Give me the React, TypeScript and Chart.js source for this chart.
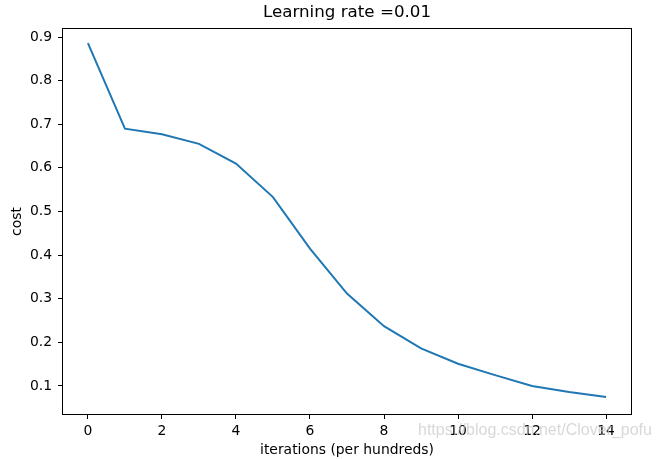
import React, { useEffect, useRef } from "react";
import { Chart, registerables } from "chart.js";

Chart.register(...registerables);

const iterations = [0, 1, 2, 3, 4, 5, 6, 7, 8, 9, 10, 11, 12, 13, 14];
const costs = [0.886, 0.690, 0.677, 0.655, 0.610, 0.533, 0.415, 0.312, 0.237, 0.186, 0.151, 0.125, 0.100, 0.086, 0.075];
const xTicks = [0, 2, 4, 6, 8, 10, 12, 14];
const yTicks = [0.1, 0.2, 0.3, 0.4, 0.5, 0.6, 0.7, 0.8, 0.9];
const titleText = "Learning rate =0.01";
const xLabel = "iterations (per hundreds)";
const yLabel = "cost";
const watermark = "https://blog.csdn.net/Clover_pofu";

const FONT = "'DejaVu Sans', sans-serif";

export default function App() {
  const ref = useRef<HTMLCanvasElement | null>(null);
  useEffect(() => {
    if (!ref.current) return;
    const framePlugin = {
      id: "frame",
      afterDraw(chart: any) {
        const { ctx, chartArea } = chart;
        ctx.save();
        ctx.strokeStyle = "#000";
        ctx.lineWidth = 1;
        const l = Math.round(chartArea.left) + 0.5;
        const t = Math.round(chartArea.top) + 0.5;
        const r = Math.round(chartArea.right) - 0.5;
        const b = Math.round(chartArea.bottom) - 0.5;
        ctx.strokeRect(l, t, r - l, b - t);
        ctx.font = "16px 'Liberation Sans', Arial, sans-serif";
        ctx.fillStyle = "rgba(200,200,200,0.7)";
        ctx.textBaseline = "alphabetic";
        ctx.textAlign = "left";
        ctx.fillText(watermark, 418, 435);
        ctx.restore();
      },
    };
    const chart = new Chart(ref.current, {
      type: "line",
      data: {
        datasets: [
          {
            data: iterations.map((x, i) => ({ x, y: costs[i] })),
            borderColor: "#1f77b4",
            borderWidth: 2,
            pointRadius: 0,
            tension: 0,
            fill: false,
          },
        ],
      },
      options: {
        animation: false,
        responsive: false,
        maintainAspectRatio: false,
        layout: { padding: { left: 0, right: 27, top: 0, bottom: 0 } },
        plugins: {
          legend: { display: false },
          tooltip: { enabled: false },
          title: {
            display: true,
            fullSize: false,
            text: titleText,
            color: "#000",
            font: { family: FONT, size: 16.7, weight: "normal" },
            padding: { top: 3, bottom: 5 },
          },
        },
        scales: {
          x: {
            type: "linear",
            min: -0.7,
            max: 14.7,
            afterBuildTicks: (scale: any) => {
              scale.ticks = xTicks.map((v) => ({ value: v }));
            },
            afterFit: (scale: any) => {
              scale.height = 44;
            },
            grid: {
              display: true,
              drawOnChartArea: false,
              drawTicks: true,
              tickLength: 4,
              color: "#000",
            },
            border: { display: false },
            ticks: {
              color: "#000",
              padding: 4,
              maxRotation: 0,
              font: { family: FONT, size: 13.9 },
              callback: (v: any) => String(v),
            },
            title: {
              display: true,
              text: xLabel,
              color: "#000",
              font: { family: FONT, size: 13.9 },
              padding: { top: 0, bottom: 0 },
            },
          },
          y: {
            type: "linear",
            min: 0.0335,
            max: 0.9206,
            afterBuildTicks: (scale: any) => {
              scale.ticks = yTicks.map((v) => ({ value: v }));
            },
            afterFit: (scale: any) => {
              scale.width = 62;
            },
            grid: {
              display: true,
              drawOnChartArea: false,
              drawTicks: true,
              tickLength: 4,
              color: "#000",
            },
            border: { display: false },
            ticks: {
              color: "#000",
              padding: 6,
              font: { family: FONT, size: 13.9 },
              callback: (v: any) => Number(v).toFixed(1),
            },
            title: {
              display: true,
              text: yLabel,
              color: "#000",
              font: { family: FONT, size: 13.9 },
              padding: { top: 9, bottom: 0 },
            },
          },
        },
      },
      plugins: [framePlugin],
    });
    return () => chart.destroy();
  }, []);
  return (
    <div style={{ position: "fixed", left: 0, top: 0, width: 659, height: 459, background: "#fff" }}>
      <canvas ref={ref} width={659} height={459} style={{ width: 659, height: 459, display: "block" }} />
    </div>
  );
}
